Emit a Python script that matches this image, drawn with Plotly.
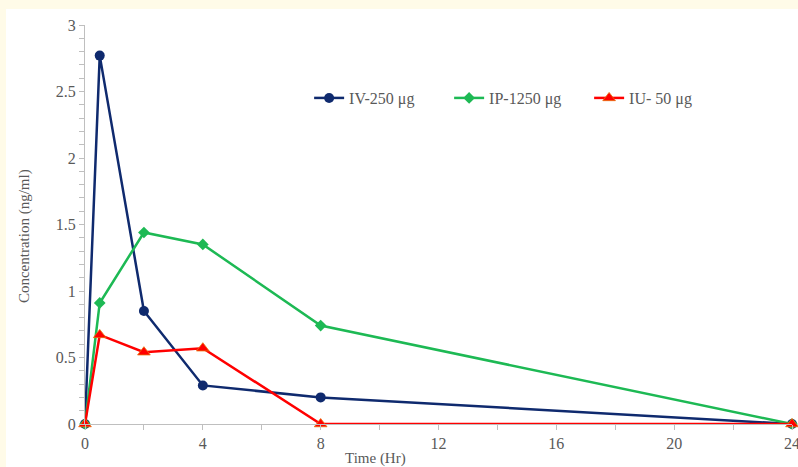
import plotly.graph_objects as go

time_hr = [0, 0.5, 2, 4, 8, 24]
iv_250 = [0, 2.77, 0.85, 0.29, 0.20, 0]
ip_1250 = [0, 0.91, 1.44, 1.35, 0.74, 0]
iu_50 = [0, 0.67, 0.54, 0.57, 0, 0]

x_ticks = [0, 4, 8, 12, 16, 20, 24]
y_ticks = [0, 0.5, 1, 1.5, 2, 2.5, 3]

FONT = "Liberation Serif, DejaVu Serif, serif"
GRAY = "#595959"

fig = go.Figure()
fig.add_trace(go.Scatter(
    x=time_hr, y=iv_250, name="IV-250 μg", mode="lines+markers",
    line=dict(color="#0f2a6e", width=2.5),
    marker=dict(symbol="circle", size=10, color="#0f2a6e"),
    cliponaxis=False))
fig.add_trace(go.Scatter(
    x=time_hr, y=ip_1250, name="IP-1250 μg", mode="lines+markers",
    line=dict(color="#1db954", width=2.5),
    marker=dict(symbol="diamond", size=9, color="#1db954"),
    cliponaxis=False))
fig.add_trace(go.Scatter(
    x=time_hr, y=iu_50, name="IU- 50 μg", mode="lines+markers",
    line=dict(color="#ff0000", width=2.5),
    marker=dict(symbol="triangle-up", size=11, color="#ff0000",
                line=dict(color="#e8700a", width=0.8)),
    cliponaxis=False))

fig.update_layout(
    width=798, height=467,
    margin=dict(l=85, r=6, t=25, b=43, autoexpand=False),
    paper_bgcolor="#fffbe8",
    plot_bgcolor="white",
    font=dict(family=FONT, size=14, color=GRAY),
    showlegend=True,
    legend=dict(orientation="h", x=0.317, y=0.817, xanchor="left", yanchor="middle",
                bgcolor="rgba(0,0,0,0)", font=dict(family=FONT, size=16, color=GRAY),
                itemwidth=30, entrywidth=95, tracegroupgap=0),
    shapes=[dict(type="rect", xref="paper", yref="paper",
                 x0=-0.1117, x1=1.2, y0=-0.5, y1=1.040,
                 fillcolor="white", line=dict(width=0), layer="below")],
    annotations=[
        dict(text="Time (Hr)", xref="paper", yref="paper", x=0.411, y=-0.0877,
             xanchor="center", yanchor="middle", showarrow=False,
             font=dict(family=FONT, size=15, color=GRAY)),
        dict(text="Concentration (ng/ml)", xref="paper", yref="paper", x=-0.0863, y=0.471,
             xanchor="center", yanchor="middle", showarrow=False, textangle=-90,
             font=dict(family=FONT, size=15, color=GRAY)),
    ],
)
fig.update_xaxes(
    range=[0, 24], tickvals=x_ticks, ticktext=[str(v) for v in x_ticks],
    automargin=False, ticklabeloverflow="allow",
    showgrid=False, zeroline=False, showline=True, linecolor="#bfbfbf", linewidth=1,
    ticks="outside", ticklen=5, tickcolor="#bfbfbf",
    minor=dict(tickvals=[2, 6, 10, 14, 18, 22], ticks="outside", ticklen=5, tickcolor="#bfbfbf"),
    tickfont=dict(family=FONT, size=16, color=GRAY),
)
fig.update_yaxes(
    range=[0, 3], tickvals=y_ticks, ticktext=[str(v) for v in y_ticks],
    automargin=False,
    showgrid=False, zeroline=False, showline=True, linecolor="#bfbfbf", linewidth=1,
    ticks="outside", ticklen=5, tickcolor="#bfbfbf",
    minor=dict(dtick=0.1, ticks="outside", ticklen=5, tickcolor="#bfbfbf"),
    tickfont=dict(family=FONT, size=16, color=GRAY),
)

fig.write_html("out.html", config={"displayModeBar": False},
               post_script="document.body.style.margin='0';")
